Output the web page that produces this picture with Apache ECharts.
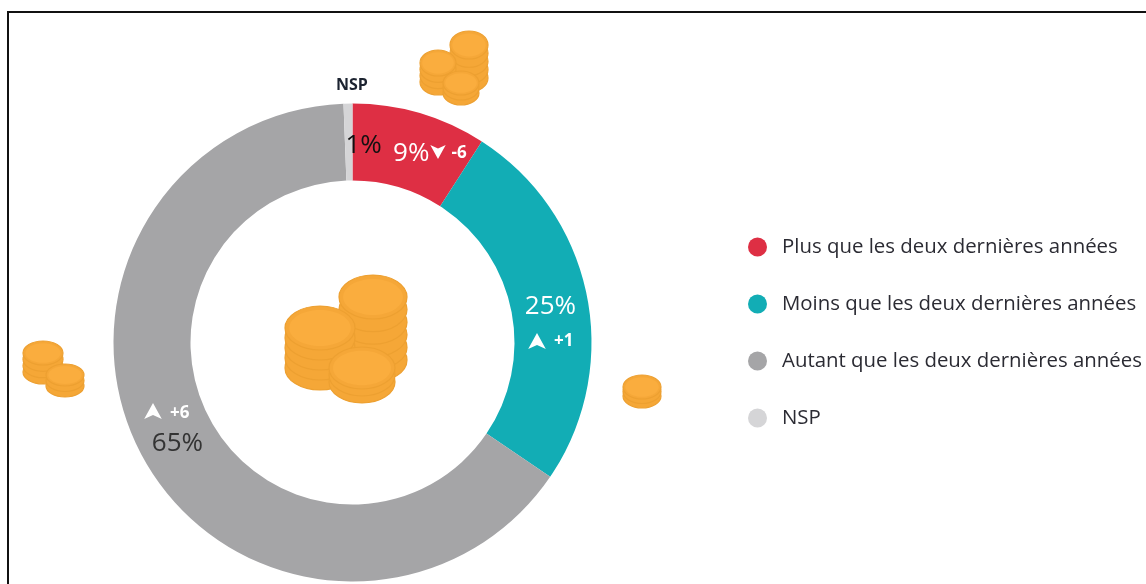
<!DOCTYPE html>
<html><head><meta charset="utf-8">
<style>html,body{margin:0;padding:0;background:#fff}#c{width:1146px;height:584px}</style>
<script src="https://cdn.jsdelivr.net/npm/echarts@6/dist/echarts.min.js"></script>
</head><body><div id="c"></div>
<script>
const categories = ['Plus que les deux dernières années','Moins que les deux dernières années','Autant que les deux dernières années','NSP'];
const shares = [9.1, 25.4, 64.9, 0.6];
const deltas = ['-6', '+1', '+6', ''];
const colors = ['#DE2F44', '#12ADB5', '#A5A5A7', '#D5D5D7'];
const FONT = '"Open Sans","Noto Sans",sans-serif';

function stack(cx, topY, bottomY, rx, ry, rings) {
  const out = [];
  for (let i = rings; i >= 1; i--) {
    const y = topY + (bottomY - topY) * i / rings;
    out.push({type:'ellipse', silent:true, shape:{cx, cy:y, rx, ry}, style:{fill:'#F5A737', stroke:'#EDA031', lineWidth:1.2}});
  }
  out.push({type:'ellipse', silent:true, shape:{cx, cy:topY, rx, ry}, style:{fill:'#F5A738', stroke:'#EDA031', lineWidth:1.2}});
  out.push({type:'ellipse', silent:true, shape:{cx, cy:topY, rx:rx*0.88, ry:ry*0.82}, style:{fill:'#FAAD3E'}});
  return out;
}
function arrow(x, y, s, up) {
  const d = up ? 1 : -1;
  return {type:'polygon', silent:true, z:20, shape:{points:[[x,y-d*s*0.5],[x+s*0.55,y+d*s*0.5],[x,y+d*s*0.25],[x-s*0.55,y+d*s*0.5]]}, style:{fill:'#fff'}};
}
const graphics = [
  {type:'rect', silent:true, shape:{x:8,y:12,width:1160,height:600}, style:{fill:'none',stroke:'#111',lineWidth:2}},
  ...stack(373,297,360,34,22,5),
  ...stack(320,328,368,35,22,4),
  ...stack(362,368,382,33,21,2),
  ...stack(469,45,78,19,14,4),
  ...stack(438,63,82,18,13,3),
  ...stack(461,83,93,18,12,2),
  ...stack(43,353,372,20,12,3),
  ...stack(65,375,386,19,11,2),
  ...stack(642,387,396,19,12,2),
  arrow(438,152,14,false),
  arrow(537,341,16,true),
  arrow(153,411,16,true),
  {type:'text',silent:true,x:336,y:77,z:20,style:{text:categories[3],fill:'#1c2330',font:'bold 16px '+FONT}}
];
const pct = v => Math.round(v) + '%';
const rich = {
  w:{color:'#fff',fontSize:26,fontFamily:FONT,lineHeight:40},
  d:{color:'#333',fontSize:26,fontFamily:FONT,lineHeight:32},
  k:{color:'#111',fontSize:26,fontFamily:FONT},
  n:{color:'#fff',fontSize:17,fontWeight:'bold',fontFamily:FONT,lineHeight:28}
};
const labelFor = [
  {formatter:() => `{w|${pct(shares[0])}}{n|     ${deltas[0]}}`, offset:[20,6]},
  {formatter:() => `{w|${pct(shares[1])}}\n{n|      ${deltas[1]}}`, offset:[-1.5,19]},
  {formatter:() => `{n| ${deltas[2]}}\n{d|${pct(shares[2])}}`, offset:[3,-12]},
  {formatter:() => `{k|${pct(shares[3])}}`, offset:[15,7]}
];
const chart = echarts.init(document.getElementById('c'), null, {renderer:'canvas'});
chart.setOption({
  animation:false,
  color:colors,
  legend:{
    orient:'vertical', left:743, top:232, itemWidth:19, itemHeight:19, itemGap:37, icon:'circle',
    selectedMode:false, data:categories,
    textStyle:{color:'#2b2b33',fontSize:20.4,fontFamily:FONT,padding:[0,0,0,10]}
  },
  graphic:{elements:graphics},
  series:[{
    type:'pie', radius:[162,239], center:[352.5,342.5], startAngle:90, clockwise:true,
    silent:true, avoidLabelOverlap:false, labelLine:{show:false},
    label:{show:true, position:'inside', rich},
    data:categories.map((name,i)=>({name, value:shares[i], label:labelFor[i]})),
    z:2
  }]
});
</script></body></html>
